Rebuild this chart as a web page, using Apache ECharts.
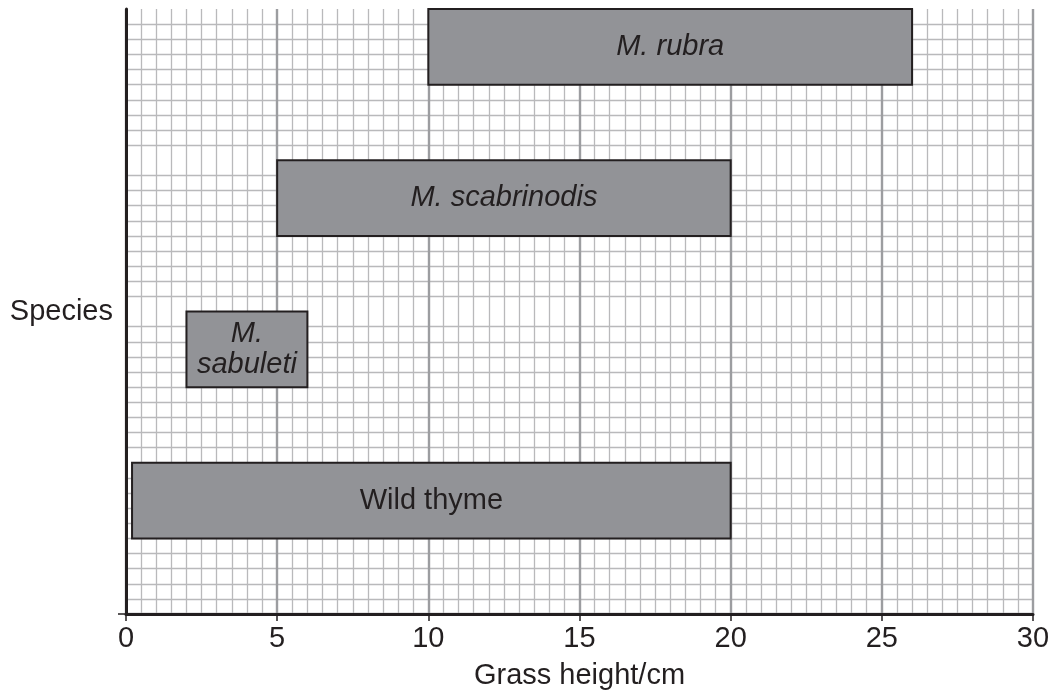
<!DOCTYPE html>
<html>
<head>
<meta charset="utf-8">
<script src="https://cdn.jsdelivr.net/npm/echarts@6/dist/echarts.min.js"></script>
<style>html,body{margin:0;padding:0;background:#fff}#c{width:1054px;height:695px}</style>
</head>
<body>
<div id="c"></div>
<script>
// Data
var species = ['Wild thyme', 'M.\nsabuleti', 'M. scabrinodis', 'M. rubra'];
var italicName = [false, true, true, true];
var heightMin = [0.2, 2, 5, 10];
var heightMax = [20, 6, 20, 26];
var rowLow = [0.5, 1.5, 2.5, 3.5];
var rowHigh = [1, 2, 3, 4];
var xTicks = [0, 5, 10, 15, 20, 25, 30];

var ink = '#231f20';
var fontFam = 'Liberation Sans, Arial, Helvetica, sans-serif';
var fs = 29;

var seriesData = species.map(function (s, i) {
  return [heightMin[i], heightMax[i], rowLow[i], rowHigh[i], i];
});

var majorLine = {color: '#9c9da0', width: 2.4};
var minorLine = {color: '#b9b9bb', width: 1.3};

var chart = echarts.init(document.getElementById('c'), null, {renderer: 'canvas'});
chart.setOption({
  animation: false,
  grid: {left: 126, right: 21, top: 9, bottom: 81, containLabel: false},
  xAxis: {
    type: 'value', min: xTicks[0], max: xTicks[xTicks.length - 1], interval: 5,
    name: 'Grass height/cm', nameLocation: 'middle', nameGap: 47,
    nameTextStyle: {color: ink, fontSize: fs, fontFamily: fontFam},
    axisLine: {show: true, onZero: false, lineStyle: {color: ink, width: 3}},
    axisTick: {show: true, length: 7, lineStyle: {color: ink, width: 1.5}},
    axisLabel: {color: ink, fontSize: fs, fontFamily: fontFam, margin: 10},
    splitLine: {show: true, lineStyle: majorLine},
    minorTick: {show: false, splitNumber: 10},
    minorSplitLine: {show: true, lineStyle: minorLine}
  },
  yAxis: {
    type: 'value', min: 0, max: 4, interval: 1,
    axisLine: {show: true, onZero: false, lineStyle: {color: ink, width: 3}},
    axisTick: {show: true, length: 8, customValues: [0], lineStyle: {color: ink, width: 1.5}},
    axisLabel: {
      show: true, customValues: [2], color: ink, fontSize: fs, fontFamily: fontFam, margin: 13,
      formatter: function (v) { return v === 2 ? 'Species' : ''; }
    },
    splitLine: {show: true, lineStyle: majorLine},
    minorTick: {show: false, splitNumber: 10},
    minorSplitLine: {show: true, lineStyle: minorLine}
  },
  series: [{
    type: 'custom',
    clip: false,
    data: seriesData,
    encode: {x: [0, 1], y: [2, 3]},
    renderItem: function (params, api) {
      var p1 = api.coord([api.value(0), api.value(3)]);
      var p2 = api.coord([api.value(1), api.value(2)]);
      var idx = api.value(4);
      return {
        type: 'rect',
        shape: {x: p1[0], y: p1[1], width: p2[0] - p1[0], height: p2[1] - p1[1]},
        style: {fill: '#929397', stroke: ink, lineWidth: 2},
        textContent: {
          style: {
            text: species[idx], fill: ink, fontSize: fs, fontFamily: fontFam,
            fontStyle: italicName[idx] ? 'italic' : 'normal',
            align: 'center', lineHeight: 31
          }
        },
        textConfig: {position: 'inside'}
      };
    }
  }]
});
</script>
</body>
</html>
